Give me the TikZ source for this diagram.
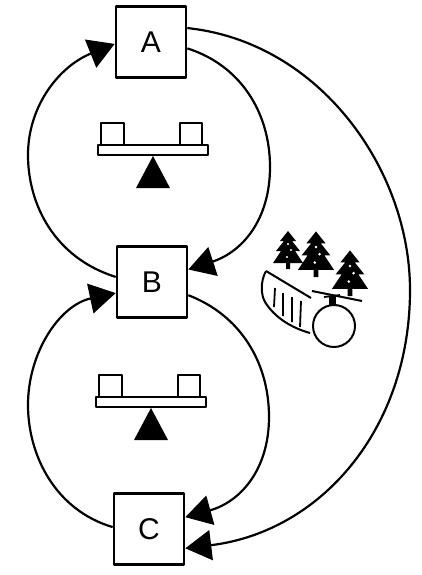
\documentclass[tikz,border=0pt]{standalone}
\usepackage{fontspec}
\setmainfont{Liberation Sans}
\usetikzlibrary{arrows.meta}

\tikzset{
  box/.style={draw, line width=2.6pt, minimum width=70pt, minimum height=71pt,
    inner sep=0pt, font=\fontsize{30}{30}\selectfont},
  link/.style={line width=2.2pt, -{Triangle[length=26pt,width=30pt]}},
  % balance: plank on a wedge with a weight at each end
  seesaw/.pic={
    \draw[line width=2.8pt] (-55,-5) rectangle (55,5);
    \draw[line width=2.4pt] (-52,-5) rectangle (-29,-27);
    \draw[line width=2.4pt] (27,-5) rectangle (49,-27);
    \fill (0,6) -- (17,38) -- (-17,38) -- cycle;
  },
  % fir tree, base of the trunk at the origin
  fir/.pic={
    \fill (0,-38) -- (8,-28) -- (4,-28) -- (12,-18) -- (7,-18) -- (15,-6)
      -- (2,-6) -- (2,0) -- (-2,0) -- (-2,-6) -- (-15,-6) -- (-7,-18)
      -- (-12,-18) -- (-4,-28) -- (-8,-28) -- cycle;
    \fill[white] (0,-25) circle (1.2) (3,-19) circle (1.2) (-1,-12) circle (1.2);
  },
}

\begin{document}
\begin{tikzpicture}[x=1pt, y=-1pt, line join=round]
\useasboundingbox (0,0) rectangle (421,575);

% blocks
\node[box] (A) at (151,42) {A};
\node[box] (B) at (152,282) {B};
\node[box] (C) at (149,529) {C};

% loop between A and B
\draw[link] (B.172) .. controls (55,258) and (28,205) .. (28,155)
  .. controls (28,105) and (60,66) .. (A.183);
\draw[link] (A.-10) .. controls (240,65) and (270,112) .. (270,167)
  .. controls (270,220) and (242,252) .. (B.19);

% loop between B and C
\draw[link] (B.-20) .. controls (240,315) and (269,362) .. (269,417)
  .. controls (269,470) and (240,502) .. (C.18);
\draw[link] (C.177) .. controls (55,510) and (28,455) .. (28,405)
  .. controls (28,352) and (60,305) .. (B.197);

% outer path from A to C
\draw[link] (A.21) .. controls (320,42) and (410,170) .. (410,290)
  .. controls (410,430) and (320,532) .. (C.-28);

% balances
\pic at (153,150) {seesaw};
\pic at (151,402) {seesaw};

% hillside with trees, sledge and ball
\pic at (288,269) {fir};
\pic[scale=1.2] at (316,277) {fir};
\pic[scale=1.2] at (350,296) {fir};
\draw[line width=2pt] (312,291) -- (362,301);
\draw[line width=2pt] (266,271) -- (311,298);
\draw[line width=2pt] (266,271) .. controls (260,282) and (261,295) .. (265,302)
  .. controls (275,318) and (292,328) .. (310,333);
\draw[line width=1.8pt] (275,288) -- (274,307)
  (283,293) -- (283,316) (292,297) -- (292,322) (301,301) -- (300,327);
\draw[line width=2pt] (334,326) circle (21);
\draw[line width=1.8pt] (324,297) -- (340,295);
\fill (329,296) rectangle (336,305);
\end{tikzpicture}
\end{document}
